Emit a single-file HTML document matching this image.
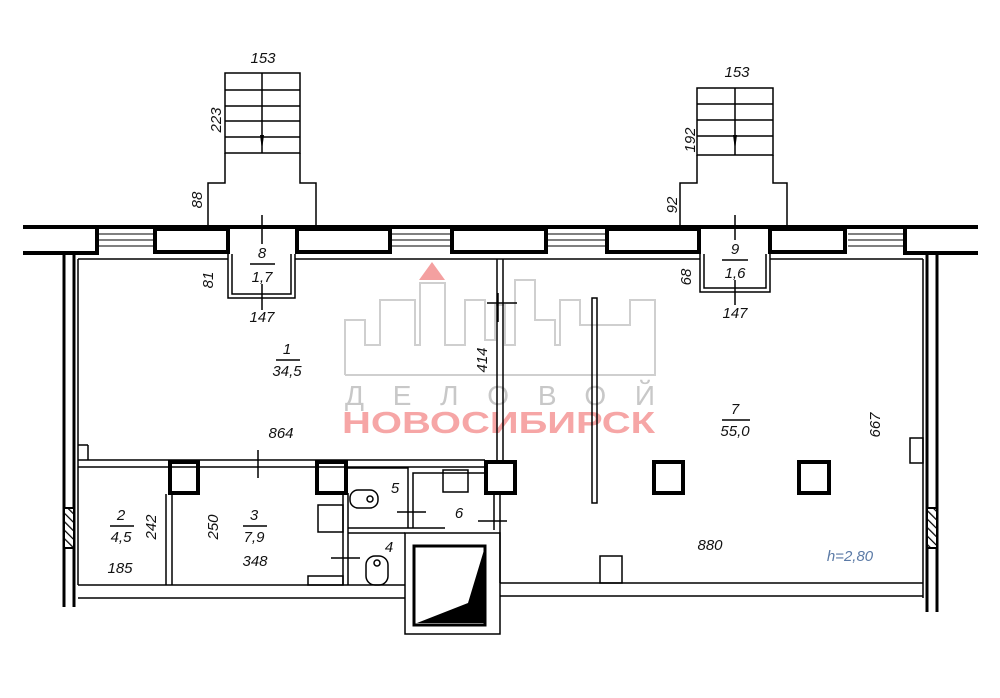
<!DOCTYPE html>
<html><head><meta charset="utf-8"><style>
html,body{margin:0;padding:0;background:#fff;}
svg{display:block;}
text{font-family:"Liberation Sans",sans-serif;font-style:italic;fill:#111;}
</style></head><body>
<svg width="1000" height="698" viewBox="0 0 1000 698" xmlns="http://www.w3.org/2000/svg">
<defs>
<pattern id="h" width="6" height="6" patternUnits="userSpaceOnUse" patternTransform="rotate(-45)">
<rect width="6" height="6" fill="#fff"/><line x1="0" y1="0" x2="0" y2="6" stroke="#000" stroke-width="2.5"/></pattern>
</defs>
<!-- watermark -->
<g fill="none" stroke="#cfcfcf" stroke-width="2">
<polyline points="345,375 345,320 365,320 365,345 380,345 380,300 415,300 415,345 420,345 420,283 445,283 445,345 465,345 465,300 485,300 485,340 495,340 495,305 505,305 505,345 515,345 515,280 535,280 535,320 555,320 555,345 560,345 560,300 580,300 580,325 630,325 630,300 655,300 655,375 345,375"/>
</g>
<polygon points="432,262 419,280 445,280" fill="#f4a0a0"/>
<text x="345" y="405" font-size="28" textLength="310" lengthAdjust="spacing" style="font-style:normal;fill:#c8c8c8">ДЕЛОВОЙ</text>
<text x="342" y="433" font-size="31" textLength="313" lengthAdjust="spacingAndGlyphs" style="font-style:normal;fill:#f6a6a6;font-weight:bold">НОВОСИБИРСК</text>

<g stroke="#000" fill="none" stroke-width="1.5">
<!-- stairs 1 -->
<rect x="225" y="73" width="75" height="80"/>
<line x1="225" y1="90" x2="300" y2="90"/><line x1="225" y1="106" x2="300" y2="106"/>
<line x1="225" y1="121" x2="300" y2="121"/><line x1="225" y1="137" x2="300" y2="137"/>
<line x1="262" y1="73" x2="262" y2="153"/>
<polyline points="225,153 225,183 208,183 208,228"/><polyline points="300,153 300,183 316,183 316,228"/>
<!-- stairs 2 -->
<rect x="697" y="88" width="76" height="67"/>
<line x1="697" y1="104" x2="773" y2="104"/><line x1="697" y1="120" x2="773" y2="120"/><line x1="697" y1="136" x2="773" y2="136"/>
<line x1="735" y1="88" x2="735" y2="155"/>
<polyline points="697,155 697,183 680,183 680,228"/><polyline points="773,155 773,183 787,183 787,228"/>
</g>
<polygon points="260,135 264,135 262,150" fill="#000"/>
<polygon points="733,135 737,135 735,150" fill="#000"/>

<g stroke="#000" fill="none">
<line x1="23" y1="227" x2="978" y2="227" stroke-width="4"/>
<line x1="23" y1="253" x2="66" y2="253" stroke-width="4"/>
<line x1="928" y1="253" x2="978" y2="253" stroke-width="4"/>
<g stroke-width="1">
<line x1="97" y1="234" x2="153" y2="234"/><line x1="97" y1="240" x2="153" y2="240"/><line x1="97" y1="246" x2="153" y2="246"/>
<line x1="392" y1="234" x2="450" y2="234"/><line x1="392" y1="240" x2="450" y2="240"/><line x1="392" y1="246" x2="450" y2="246"/>
<line x1="548" y1="234" x2="605" y2="234"/><line x1="548" y1="240" x2="605" y2="240"/><line x1="548" y1="246" x2="605" y2="246"/>
<line x1="848" y1="234" x2="905" y2="234"/><line x1="848" y1="240" x2="905" y2="240"/><line x1="848" y1="246" x2="905" y2="246"/>
</g>
<g stroke-width="4">
<polyline points="66,253 97,253 97,227"/>
<rect x="155" y="229" width="73" height="23"/>
<rect x="297" y="229" width="93" height="23"/>
<rect x="452" y="229" width="94" height="23"/>
<rect x="607" y="229" width="92" height="23"/>
<rect x="770" y="229" width="75" height="23"/>
<polyline points="905,227 905,253 928,253"/>
</g>
<g stroke-width="1.5">
<polyline points="228,254 228,298 295,298 295,254"/><polyline points="232,254 232,294 291,294 291,254"/>
<polyline points="700,254 700,292 770,292 770,254"/><polyline points="704,254 704,288 766,288 766,254"/>
<line x1="262" y1="215" x2="262" y2="244"/><line x1="262" y1="284" x2="262" y2="310"/>
<line x1="735" y1="215" x2="735" y2="240"/><line x1="735" y1="280" x2="735" y2="305"/>
<!-- fraction bars -->
<line x1="250" y1="264" x2="275" y2="264"/>
<line x1="722" y1="260" x2="748" y2="260"/>
<line x1="276" y1="360" x2="300" y2="360"/>
<line x1="110" y1="526" x2="134" y2="526"/>
<line x1="243" y1="526" x2="267" y2="526"/>
<line x1="722" y1="420" x2="750" y2="420"/>
</g>
<g stroke-width="1.5">
<line x1="78" y1="259" x2="228" y2="259"/><line x1="295" y1="259" x2="700" y2="259"/><line x1="770" y1="259" x2="923" y2="259"/>
<line x1="78" y1="259" x2="78" y2="585"/>
<line x1="923" y1="259" x2="923" y2="598"/>
<line x1="497" y1="259" x2="497" y2="460"/><line x1="503" y1="259" x2="503" y2="460"/>
<line x1="78" y1="460" x2="485" y2="460"/><line x1="78" y1="467" x2="485" y2="467"/>
<line x1="78" y1="445" x2="88" y2="445"/><line x1="88" y1="445" x2="88" y2="460"/>
<line x1="166" y1="494" x2="166" y2="585"/><line x1="172" y1="494" x2="172" y2="585"/>
<line x1="78" y1="585" x2="405" y2="585"/><line x1="78" y1="598" x2="405" y2="598"/>
<line x1="500" y1="583" x2="923" y2="583"/><line x1="500" y1="596" x2="923" y2="596"/>
<line x1="500" y1="495" x2="500" y2="583"/><line x1="494" y1="495" x2="494" y2="530"/>
<rect x="592" y="298" width="5" height="205"/>
<rect x="600" y="556" width="22" height="27"/>
<rect x="910" y="438" width="13" height="25"/>
</g>
<g stroke-width="3">
<line x1="64" y1="253" x2="64" y2="607"/><line x1="74" y1="253" x2="74" y2="607"/>
<line x1="927" y1="253" x2="927" y2="612"/><line x1="937" y1="253" x2="937" y2="612"/>
</g>
<rect x="64" y="508" width="10" height="40" fill="url(#h)" stroke-width="2"/>
<rect x="927" y="508" width="10" height="40" fill="url(#h)" stroke-width="2"/>
<g stroke-width="4">
<rect x="170" y="462" width="28" height="31"/>
<rect x="317" y="462" width="29" height="31"/>
<rect x="486" y="462" width="29" height="31"/>
<rect x="654" y="462" width="29" height="31"/>
<rect x="799" y="462" width="30" height="31"/>
</g>
<g stroke-width="1.5">
<line x1="343" y1="493" x2="343" y2="585"/><line x1="348" y1="493" x2="348" y2="585"/>
<polyline points="348,468 408,468 408,528"/><polyline points="413,528 413,473 484,473"/>
<line x1="348" y1="528" x2="445" y2="528"/><line x1="348" y1="533" x2="405" y2="533"/>
<rect x="318" y="505" width="25" height="27"/>
<rect x="350" y="490" width="28" height="18" rx="8"/>
<circle cx="370" cy="499" r="3"/>
<rect x="366" y="556" width="22" height="29" rx="9"/><circle cx="377" cy="563" r="3"/>
<rect x="308" y="576" width="35" height="9"/>
<rect x="443" y="470" width="25" height="22"/>
<rect x="405" y="533" width="95" height="101"/>
<rect x="414" y="546" width="71" height="79" stroke-width="3"/>
<line x1="498" y1="293" x2="498" y2="322"/><line x1="487" y1="303" x2="517" y2="303"/>
<line x1="258" y1="450" x2="258" y2="478"/>
<line x1="397" y1="512" x2="426" y2="512"/><line x1="478" y1="521" x2="507" y2="521"/>
<line x1="331" y1="558" x2="360" y2="558"/>
</g>
</g>
<polygon points="417,623 484,623 484,550 468,603" fill="#000"/>

<g font-size="15" text-anchor="middle">
<text x="263" y="63">153</text><text x="737" y="77">153</text>
<text x="216" y="120" transform="rotate(-90 216 120)" dy="5">223</text>
<text x="197" y="200" transform="rotate(-90 197 200)" dy="5">88</text>
<text x="690" y="140" transform="rotate(-90 690 140)" dy="5">192</text>
<text x="672" y="205" transform="rotate(-90 672 205)" dy="5">92</text>
<text x="262" y="258">8</text><text x="262" y="282">1,7</text><text x="262" y="322">147</text>
<text x="208" y="280" transform="rotate(-90 208 280)" dy="5">81</text>
<text x="735" y="254">9</text><text x="735" y="278">1,6</text><text x="735" y="318">147</text>
<text x="686" y="277" transform="rotate(-90 686 277)" dy="5">68</text>
<text x="287" y="354">1</text><text x="287" y="376">34,5</text>
<text x="281" y="438">864</text>
<text x="482" y="360" transform="rotate(-90 482 360)" dy="5">414</text>
<text x="735" y="414">7</text><text x="735" y="436">55,0</text>
<text x="875" y="425" transform="rotate(-90 875 425)" dy="5">667</text>
<text x="710" y="550">880</text>
<text x="850" y="561" style="fill:#5b7aa6">h=2,80</text>
<text x="121" y="520">2</text><text x="121" y="542">4,5</text>
<text x="151" y="527" transform="rotate(-90 151 527)" dy="5">242</text>
<text x="120" y="573">185</text>
<text x="254" y="520">3</text><text x="254" y="542">7,9</text>
<text x="213" y="527" transform="rotate(-90 213 527)" dy="5">250</text>
<text x="255" y="566">348</text>
<text x="395" y="493">5</text><text x="459" y="518">6</text><text x="389" y="552">4</text>
</g>
</svg>
</body></html>
